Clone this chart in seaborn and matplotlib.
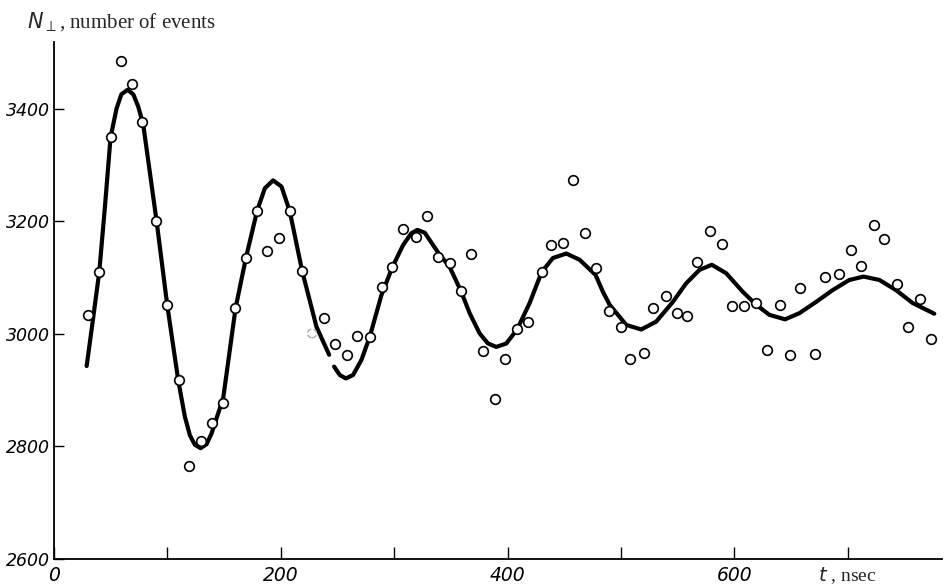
import matplotlib
matplotlib.use("Agg")
import matplotlib.pyplot as plt
import seaborn as sns
import pandas as pd

# measured counts (open circles)
pts_t = [30, 40, 50, 59, 69, 78, 90, 100, 110, 119,
         130, 139, 149, 160, 169, 179, 188, 198, 208, 219,
         238, 248, 258, 267, 279, 289, 298, 308, 319, 329,
         339, 349, 359, 368, 378, 389, 398, 408, 418, 430,
         438, 449, 458, 468, 478, 489, 500, 508, 520, 528,
         540, 549, 558, 567, 578, 589, 598, 608, 619, 629,
         640, 649, 658, 671, 680, 692, 703, 712, 723, 732,
         743, 753, 764, 773]
pts_v = [3033, 3110, 3350, 3485, 3444, 3377, 3201, 3052, 2918, 2765,
         2810, 2842, 2878, 3046, 3135, 3219, 3148, 3171, 3218, 3112,
         3029, 2983, 2963, 2997, 2995, 3083, 3119, 3186, 3172, 3210,
         3136, 3126, 3076, 3142, 2969, 2884, 2955, 3008, 3021, 3110,
         3159, 3161, 3274, 3180, 3117, 3041, 3012, 2956, 2966, 3046,
         3067, 3037, 3032, 3128, 3183, 3160, 3049, 3049, 3055, 2971,
         3052, 2963, 3081, 2965, 3102, 3107, 3150, 3120, 3194, 3168,
         3089, 3012, 3063, 2991]

# faint (half printed) point
faint_t = [227.6]
faint_v = [3001]

# fitted curve, first part
c1_t = [28.8, 34.7, 39.9, 44.9, 49.9, 55.2, 59.4, 64.9, 69.9, 74.3,
        78.7, 84.6, 90.5, 99.8, 109.5, 115.4, 119.8, 124.2, 129.2, 134.5,
        138.9, 143.3, 149.2, 160.1, 169.2, 179.1, 185.9, 193.2, 200.6, 207.9,
        218.8, 231.4, 242.6]
c1_v = [2943, 3031, 3110, 3226, 3350, 3401, 3426, 3434, 3426, 3404,
        3372, 3286, 3200, 3052, 2918, 2853, 2820, 2803, 2797, 2804,
        2823, 2850, 2886, 3046, 3135, 3219, 3259, 3273, 3262, 3218,
        3112, 3013, 2963]

# fitted curve, second part
c2_t = [247.0, 252.0, 257.3, 263.7, 271.1, 278.4, 288.7, 298.4, 307.8, 315.1,
        320.4, 326.9, 338.6, 348.9, 358.9, 366.5, 375.3, 382.7, 390.0, 398.8,
        408.3, 419.4, 430.0, 439.9, 451.7, 463.4, 477.5, 484.0, 489.9, 504.6,
        517.8, 531.0, 545.7, 557.4, 569.2, 580.0, 592.7, 607.3, 619.1, 630.8,
        644.6, 657.3, 672.0, 686.6, 701.3, 713.9, 727.8, 742.4, 757.1, 776.2]
c2_v = [2942, 2927, 2921, 2927, 2954, 2995, 3069, 3119, 3158, 3179,
        3185, 3180, 3145, 3119, 3076, 3037, 3001, 2983, 2977, 2983,
        3008, 3055, 3110, 3135, 3143, 3132, 3105, 3075, 3052, 3016,
        3008, 3022, 3057, 3090, 3114, 3123, 3108, 3075, 3052, 3034,
        3026, 3037, 3057, 3078, 3096, 3102, 3096, 3078, 3055, 3036]

xticks = [0, 100, 200, 300, 400, 500, 600, 700]
xlabels = ['0', '', '200', '', '400', '', '600', '']
yticks = [2600, 2800, 3000, 3200, 3400]

sns.set_style("ticks")
plt.rcParams['mathtext.fontset'] = 'dejavusans'

TICKFONT = {'family': 'DejaVu Sans', 'style': 'oblique'}

fig = plt.figure(figsize=(9.47, 5.88), dpi=100)
ax = fig.add_axes([54/947, 29/588, 888/947, 517/588])

sns.lineplot(x=c1_t, y=c1_v, color='black', linewidth=3, sort=False, ax=ax, zorder=2)
sns.lineplot(x=c2_t, y=c2_v, color='black', linewidth=3, sort=False, ax=ax, zorder=2)
sns.scatterplot(x=pts_t, y=pts_v, s=48, facecolor='white', edgecolor='black',
                linewidth=1.2, ax=ax, zorder=3)
sns.scatterplot(x=faint_t, y=faint_v, s=40, facecolor='white', edgecolor='#aaaaaa',
                linewidth=1.0, linestyle='--', ax=ax, zorder=3)

ax.set_xlim(0, 783)
ax.set_ylim(2600, 3519)
sns.despine(ax=ax)
for s in ['left', 'bottom']:
    ax.spines[s].set_linewidth(1.3)
    ax.spines[s].set_color('black')

ax.set_xticks(xticks)
ax.set_xticklabels(xlabels, fontdict=TICKFONT, fontsize=13.5)
ax.set_yticks(yticks)
ax.set_yticklabels([str(v) for v in yticks], fontdict=TICKFONT, fontsize=12.5)
ax.tick_params(axis='x', direction='in', length=9, width=1, pad=5, colors='black')
ax.tick_params(axis='y', direction='in', length=7, width=1, pad=3, colors='black')
ax.set_xlabel('')
ax.set_ylabel('')

fig.text(27/947, 1 - 28/588, r'$N_\perp$, number of events', fontsize=15,
         family='Liberation Serif', ha='left', va='baseline')
fig.text(818/947, 1 - 581/588, r'$t$ , nsec', fontsize=14,
         family='Liberation Serif', ha='left', va='baseline')

plt.savefig('out.png', dpi=100)
